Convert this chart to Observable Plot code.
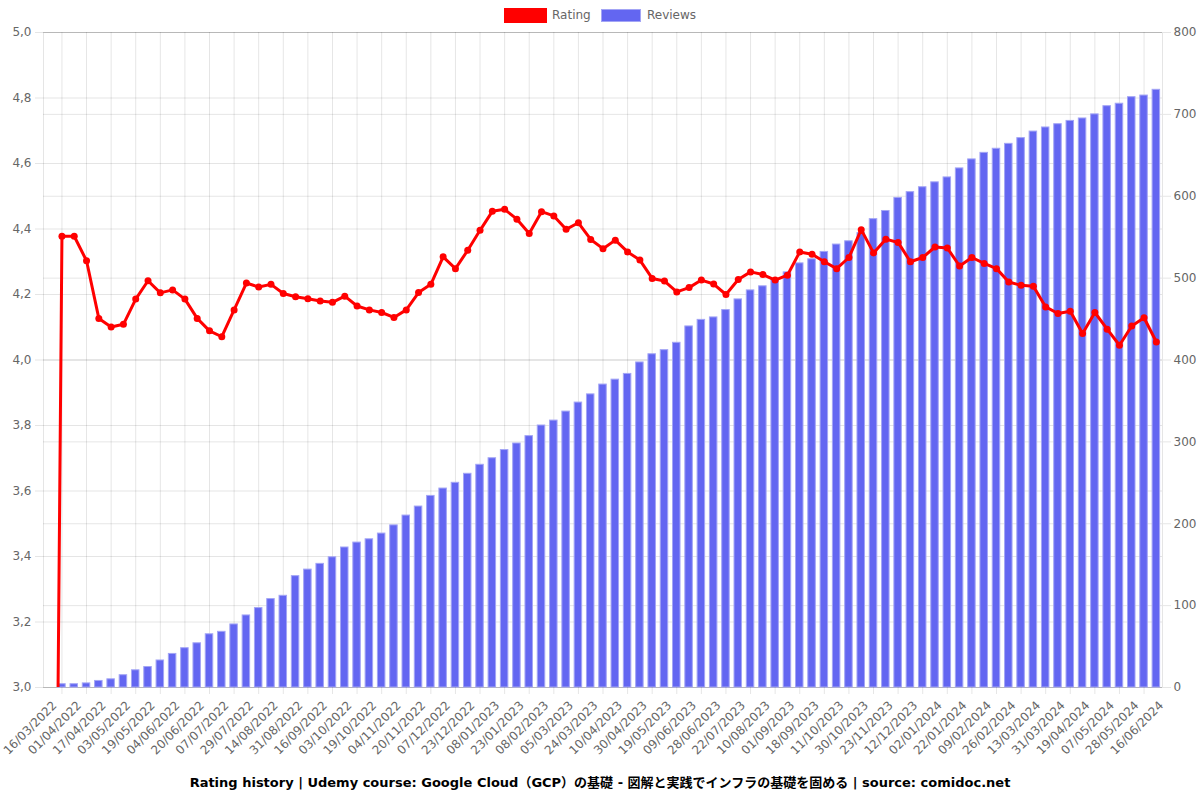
<!DOCTYPE html>
<html>
<head>
<meta charset="utf-8">
<script src="https://cdn.jsdelivr.net/npm/d3@7"></script>
<script src="https://cdn.jsdelivr.net/npm/@observablehq/plot@0.6"></script>
<style>
  body { margin: 0; background: #fff; font-family: "DejaVu Sans", sans-serif; }
  #wrap { position: relative; width: 1200px; height: 800px; overflow: hidden; }
  #wrap svg, #wrap svg g, #wrap svg text { font-size: 12px !important; font-family: "DejaVu Sans", sans-serif !important; }
  #legend { position: absolute; left: 0; top: 0; width: 1200px; height: 26px; font-size: 12px; color: #666; }
  .sw { position: absolute; box-sizing: border-box; }
  .lt { position: absolute; top: 8px; line-height: 15px; }
  .layer { position: absolute; left: 0; top: 26px; }
  #title { position: absolute; left: 0; top: 772px; width: 1200px; text-align: center; font-weight: bold; font-size: 13px; line-height: 22px; color: #000; font-family: "DejaVu Sans", "Noto Sans CJK JP", sans-serif; }
</style>
</head>
<body>
<div id="wrap">
  <div id="legend">
    <div class="sw" style="left:504px;top:8px;width:43px;height:15px;background:#ff0000;"></div>
    <div class="lt" style="left:552px;">Rating</div>
    <div class="sw" style="left:601px;top:9px;width:40px;height:13px;background:#6366f1;border:1px solid #a3a5f5;"></div>
    <div class="lt" style="left:647px;">Reviews</div>
  </div>
  <div id="l1" class="layer"></div>
  <div id="l2" class="layer"></div>
  <div id="l3" class="layer"></div>
  <div id="title"></div>
</div>
<script>
// ---- data ----
const tickLabels = [
  "16/03/2022","01/04/2022","17/04/2022","03/05/2022","19/05/2022","04/06/2022","20/06/2022","07/07/2022",
  "29/07/2022","14/08/2022","31/08/2022","16/09/2022","03/10/2022","19/10/2022","04/11/2022","20/11/2022",
  "07/12/2022","23/12/2022","08/01/2023","23/01/2023","08/02/2023","05/03/2023","24/03/2023","10/04/2023",
  "30/04/2023","19/05/2023","09/06/2023","28/06/2023","22/07/2023","10/08/2023","01/09/2023","18/09/2023",
  "11/10/2023","30/10/2023","23/11/2023","12/12/2023","02/01/2024","22/01/2024","09/02/2024","26/02/2024",
  "13/03/2024","31/03/2024","19/04/2024","07/05/2024","28/05/2024","16/06/2024"
];
const reviews = [
  0,4,4,5,8,10,15,21,25,33,41,48,54,65,68,77,88,97,108,112,
  136,144,151,159,171,177,181,188,198,210,221,234,243,250,261,272,280,290,298,307,
  320,326,337,348,358,370,376,383,397,407,412,421,441,449,452,461,474,485,490,498,
  507,518,523,532,541,545,555,572,582,598,605,611,617,623,634,645,653,658,664,671,
  679,684,688,692,695,700,710,713,721,723,730
];
const ratings = [
  0,4.378,4.378,4.303,4.127,4.101,4.109,4.186,4.242,4.205,4.214,4.186,4.127,4.089,4.071,4.153,4.235,4.223,4.231,4.203,
  4.193,4.187,4.180,4.176,4.195,4.165,4.153,4.145,4.130,4.153,4.206,4.231,4.315,4.279,4.335,4.396,4.454,4.460,4.430,4.386,
  4.453,4.440,4.399,4.419,4.368,4.340,4.366,4.330,4.305,4.249,4.241,4.208,4.221,4.244,4.232,4.200,4.246,4.269,4.261,4.244,
  4.259,4.330,4.323,4.300,4.279,4.313,4.398,4.327,4.369,4.359,4.300,4.313,4.345,4.342,4.287,4.313,4.295,4.279,4.238,4.228,
  4.225,4.162,4.142,4.149,4.081,4.145,4.094,4.045,4.104,4.129,4.055
];
const ratingTicks = [3.0,3.2,3.4,3.6,3.8,4.0,4.2,4.4,4.6,4.8,5.0];
const reviewTicks = [0,100,200,300,400,500,600,700,800];
const titleText = "Rating history | Udemy course: Google Cloud（GCP）の基礎 - 図解と実践でインフラの基礎を固める | source: comidoc.net";

// ---- layout ----
const idx = d3.range(reviews.length);
const evenIdx = idx.filter(i => i % 2 === 0);
const oddIdx = idx.filter(i => i % 2 === 1);
const GRID = "#000", GRID_OP = 0.1, TXT = "#666", FS = 12;
const base = {
  width: 1200, height: 740,
  marginLeft: 43, marginRight: 38, marginTop: 6, marginBottom: 79,
  style: { fontFamily: "DejaVu Sans, sans-serif", fontSize: "12px", background: "transparent", overflow: "visible" }
};
const xPoint = { type: "point", domain: idx, padding: 0.5, align: 0.5, round: false, axis: null };
const xBand = { type: "band", domain: idx, padding: 0, align: 0.5, round: false, axis: null };

// layer 1: rating grid, left axis, vertical grid
const p1 = Plot.plot({
  ...base,
  x: xPoint,
  y: { domain: [3, 5], axis: null },
  marks: [
    Plot.gridX(oddIdx, { stroke: GRID, strokeOpacity: GRID_OP }),
    Plot.gridY(ratingTicks, { stroke: GRID, strokeOpacity: GRID_OP }),
    Plot.axisY(ratingTicks, {
      anchor: "left", label: null, tickSize: 8, tickPadding: 4, fontSize: FS,
      tickFormat: d => d3.format(".1f")(d).replace(".", ","),
      stroke: GRID, strokeOpacity: GRID_OP, fill: TXT
    })
  ]
});
document.getElementById("l1").append(p1);

// layer 2: reviews bars, right axis, x axis
const p2 = Plot.plot({
  ...base,
  x: xBand,
  y: { domain: [0, 800], axis: null },
  marks: [
    Plot.gridY(reviewTicks, { stroke: GRID, strokeOpacity: GRID_OP }),
    Plot.frame({ stroke: GRID, strokeOpacity: GRID_OP }),
    Plot.barY(idx, { x: i => i, y: i => reviews[i], fill: "#6366f1", stroke: "#a3a5f5", strokeWidth: 1, insetLeft: 2.4, insetRight: 2.4 }),
    Plot.axisY(reviewTicks, {
      anchor: "right", label: null, tickSize: 8, tickPadding: 3, fontSize: FS,
      stroke: GRID, strokeOpacity: GRID_OP, fill: TXT
    }),
    Plot.axisX(oddIdx, { anchor: "bottom", label: null, tickSize: 7, tickFormat: () => "", stroke: GRID, strokeOpacity: GRID_OP }),
    Plot.axisX(evenIdx, {
      anchor: "bottom", label: null, tickSize: 0, tickPadding: 16, tickRotate: -45, dx: 5, fontSize: FS,
      tickFormat: i => tickLabels[i / 2], fill: TXT
    })
  ]
});
document.getElementById("l2").append(p2);

// layer 3: rating line
const p3 = Plot.plot({
  ...base,
  x: xPoint,
  y: { domain: [3, 5], axis: null },
  marks: [
    Plot.line(idx, { x: i => i, y: i => ratings[i], stroke: "#ff0000", strokeWidth: 3, clip: true }),
    Plot.dot(idx, { x: i => i, y: i => ratings[i], r: 3.5, fill: "#ff0000", stroke: "none", clip: true })
  ]
});
document.getElementById("l3").append(p3);

document.getElementById("title").textContent = titleText;
</script>
</body>
</html>
